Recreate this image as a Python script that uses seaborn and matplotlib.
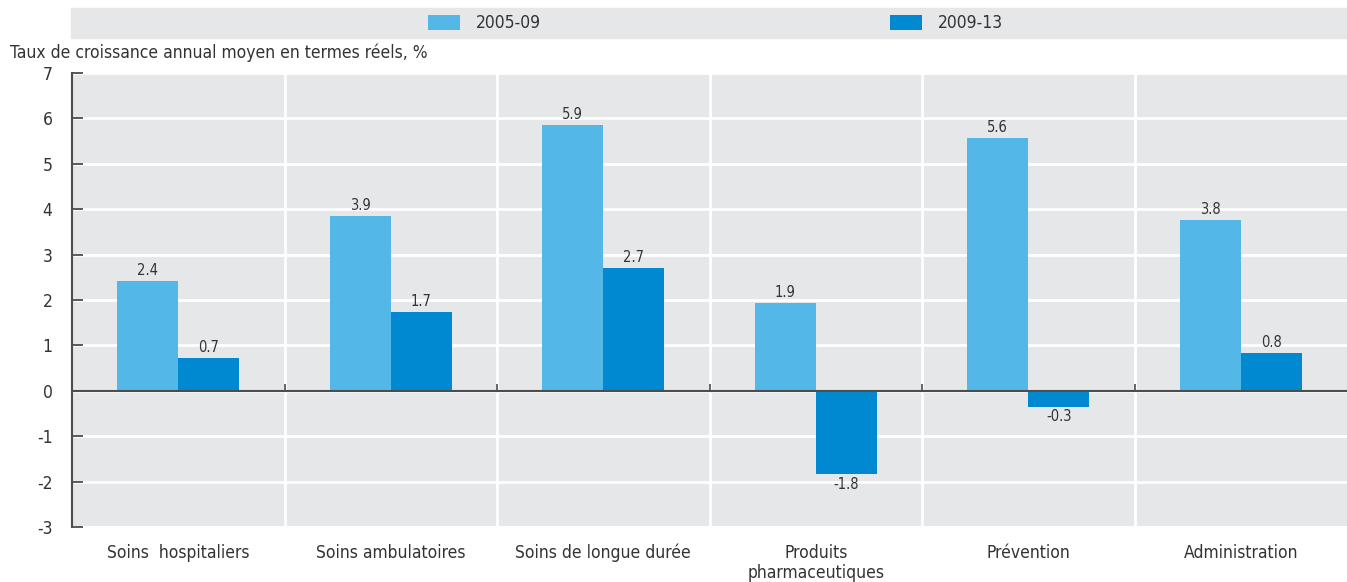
import matplotlib
matplotlib.use("Agg")
import matplotlib.pyplot as plt
from matplotlib import font_manager as fm
import seaborn as sns
import pandas as pd

categories = ["Soins  hospitaliers", "Soins ambulatoires", "Soins de longue durée",
              "Produits\npharmaceutiques", "Prévention", "Administration"]
series_names = ["2005-09", "2009-13"]
values_2005_09 = [2.42, 3.86, 5.86, 1.94, 5.57, 3.77]
values_2009_13 = [0.73, 1.74, 2.71, -1.83, -0.35, 0.84]
labels_2005_09 = ["2.4", "3.9", "5.9", "1.9", "5.6", "3.8"]
labels_2009_13 = ["0.7", "1.7", "2.7", "-1.8", "-0.3", "0.8"]
y_ticks = [-3, -2, -1, 0, 1, 2, 3, 4, 5, 6, 7]
y_title = "Taux de croissance annual moyen en termes réels, %"

colors = ["#53B7E7", "#0089D1"]
bg = "#E6E7E8"
dark = "#4D4D4D"
txt = "#333333"

sns.set_theme(style="white")
avail = {f.name for f in fm.fontManager.ttflist}
fam = "Liberation Sans Narrow" if "Liberation Sans Narrow" in avail else "DejaVu Sans"
plt.rcParams["font.family"] = [fam, "DejaVu Sans"]
plt.rcParams["font.stretch"] = "condensed"

df = pd.DataFrame({
    "cat": categories * 2,
    "period": [series_names[0]] * len(categories) + [series_names[1]] * len(categories),
    "value": values_2005_09 + values_2009_13,
})

W, H = 1347, 582
fig = plt.figure(figsize=(W / 100, H / 100), dpi=100)
ax = fig.add_axes([72 / W, (H - 527) / H, (1347 - 72) / W, (527 - 73) / H])
ax.set_facecolor(bg)

sns.barplot(data=df, x="cat", y="value", hue="period", palette=colors,
            width=0.575, saturation=1, legend=False, ax=ax, order=categories,
            hue_order=series_names, linewidth=0)

ax.set_ylim(-3, 7)
ax.set_xlim(-0.5, len(categories) - 0.5)
ax.set_yticks(y_ticks)
ax.set_yticklabels([str(t) for t in y_ticks])
ax.set_xlabel("")
ax.set_ylabel("")

# grid
ax.yaxis.grid(True, color="white", lw=2)
ax.set_xticks([i + 0.5 for i in range(len(categories) - 1)], minor=True)
ax.xaxis.grid(True, which="minor", color="white", lw=2)
ax.set_axisbelow(True)

for s in ["top", "right", "bottom"]:
    ax.spines[s].set_visible(False)
ax.spines["left"].set_color(dark)
ax.spines["left"].set_linewidth(1.5)

ax.tick_params(axis="y", direction="in", length=8, width=1.3, color=dark,
               labelsize=12.5, labelcolor=txt, pad=14, left=True)
ax.tick_params(axis="x", which="major", length=0, labelsize=12.5, labelcolor=txt, pad=12)
ax.tick_params(axis="x", which="minor", length=0)

ax.axhline(0, color=dark, lw=1.5, zorder=3)
ax.vlines([i + 0.5 for i in range(len(categories) - 1)], 0, 0.15, color=dark, lw=1.2, zorder=3)

for cont, labs in zip(ax.containers, [labels_2005_09, labels_2009_13]):
    ax.bar_label(cont, labels=labs, padding=2, fontsize=10.5, color=txt)

# legend band
fig.patches.append(plt.Rectangle((71 / W, (H - 38) / H), (1347 - 71) / W, 30 / H,
                                 transform=fig.transFigure, color=bg, zorder=0))
for cont, name, xpx in zip(ax.containers, series_names, [428, 890]):
    fig.legend(handles=[cont.patches[0]], labels=[name], loc="center left",
               bbox_to_anchor=(xpx / W, (H - 23) / H), frameon=False, borderpad=0,
               handlelength=1.85, handleheight=0.95, handletextpad=0.9,
               fontsize=12.5, labelcolor=txt, borderaxespad=0)

fig.text(10 / W, (H - 53) / H, y_title, fontsize=12.5, color=txt, va="center", ha="left")

fig.savefig("out.png", dpi=100)
